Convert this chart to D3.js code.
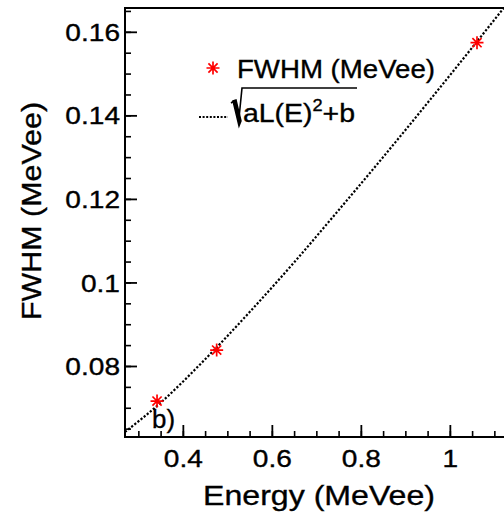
<!DOCTYPE html>
<html>
<head>
<meta charset="utf-8">
<script src="https://cdn.jsdelivr.net/npm/d3@7"></script>
<style>
  body { margin: 0; background: #fff; }
  text { font-family: "Liberation Sans", Arial, sans-serif; fill: #000; stroke: #000; stroke-width: 0.35px; }
</style>
</head>
<body>
<div id="chart"></div>
<script>
/* data */
var energy = [0.342, 0.476, 1.061];
var fwhm = [0.0716, 0.0838, 0.1574];

/* fit curve sqrt(aL(E)^2+b), sampled along the picture */
var fitE = [0.27, 0.35, 0.45, 0.55, 0.65, 0.75, 0.85, 0.95, 1.05, 1.13];
var fitF = [0.0642, 0.0712, 0.0816, 0.0929, 0.1048, 0.1173, 0.1300, 0.1430, 0.1562, 0.1669];

var yTicks = [0.08, 0.1, 0.12, 0.14, 0.16];
var yTickLabels = ["0.08", "0.1", "0.12", "0.14", "0.16"];
var xTicks = [0.4, 0.6, 0.8, 1.0];
var xTickLabels = ["0.4", "0.6", "0.8", "1"];

var xTitle = "Energy (MeVee)";
var yTitle = "FWHM (MeVee)";
var legendPoints = "FWHM (MeVee)";
var panelLabel = "b)";

var W = 504, H = 512;
var padL = 125, padT = 8, padB = 437, padR = 525;
var stretch = 1.17; // text in the original is widened

var svg = d3.select("#chart").append("svg")
	.attr("width", W).attr("height", H);

var x = d3.scaleLinear().domain([0.27, 0.27 + (padR - padL) / 445]).range([padL, padR]);
var y = d3.scaleLinear().domain([0.0630, 0.1657]).range([padB, padT]);

svg.append("defs").append("clipPath").attr("id", "clip")
	.append("rect").attr("x", padL).attr("y", padT)
	.attr("width", padR - padL).attr("height", padB - padT);

function widen(sel) {
	sel.each(function() {
		var n = this.getComputedTextLength();
		d3.select(this).attr("textLength", n * stretch).attr("lengthAdjust", "spacingAndGlyphs");
	});
}

/* minor ticks */
var yMinor = d3.range(0.065, 0.1651, 0.005);
var xMinor = d3.range(0.30, 1.16, 0.05);

svg.append("g").attr("transform", "translate(" + padL + ",0)")
	.call(d3.axisLeft(y).tickValues(yMinor).tickSize(-6).tickFormat(""))
	.call(function(g){ g.select(".domain").remove(); g.selectAll("line").attr("stroke-width", 1.6); });
svg.append("g").attr("transform", "translate(0," + padB + ")")
	.call(d3.axisBottom(x).tickValues(xMinor).tickSize(-6).tickFormat(""))
	.call(function(g){ g.select(".domain").remove(); g.selectAll("line").attr("stroke-width", 1.6); });

/* major ticks */
var gy = svg.append("g").attr("transform", "translate(" + padL + ",0)")
	.call(d3.axisLeft(y).tickValues(yTicks).tickSize(-12).tickPadding(5)
		.tickFormat(function(d, i){ return yTickLabels[i]; }));
gy.select(".domain").remove();
gy.selectAll("line").attr("stroke-width", 1.8);
gy.selectAll("text").attr("font-size", 24).attr("dy", "0.36em")
	.style("font-family", "Liberation Sans, Arial, sans-serif").call(widen);

var gx = svg.append("g").attr("transform", "translate(0," + padB + ")")
	.call(d3.axisBottom(x).tickValues(xTicks).tickSize(-12).tickPadding(0)
		.tickFormat(function(d, i){ return xTickLabels[i]; }));
gx.select(".domain").remove();
gx.selectAll("line").attr("stroke-width", 1.8);
gx.selectAll("text").attr("font-size", 24).attr("y", 30).attr("dy", 0)
	.style("font-family", "Liberation Sans, Arial, sans-serif").call(widen);

/* frame */
svg.append("path")
	.attr("d", "M" + padR + "," + padT + "H" + padL + "V" + padB + "H" + padR)
	.attr("fill", "none").attr("stroke", "#000").attr("stroke-width", 2);

/* fit curve */
var line = d3.line()
	.x(function(d){ return x(d[0]); })
	.y(function(d){ return y(d[1]); })
	.curve(d3.curveMonotoneX);

svg.append("path")
	.datum(d3.zip(fitE, fitF))
	.attr("clip-path", "url(#clip)")
	.attr("d", line)
	.attr("fill", "none").attr("stroke", "#000")
	.attr("stroke-width", 2.2).attr("stroke-dasharray", "2.2,1.8");

/* star markers */
function star(r) {
	var d = "";
	for (var k = 0; k < 4; k++) {
		var a = k * Math.PI / 4;
		var dx = r * Math.cos(a), dy = r * Math.sin(a);
		d += "M" + (-dx) + "," + (-dy) + "L" + dx + "," + dy;
	}
	return d;
}

svg.append("g").selectAll("path")
	.data(d3.zip(energy, fwhm))
	.enter().append("path")
	.attr("transform", function(d){ return "translate(" + x(d[0]) + "," + y(d[1]) + ")"; })
	.attr("d", star(6.5))
	.attr("stroke", "#ff0000").attr("stroke-width", 1.7).attr("fill", "none");

/* axis titles */
svg.append("text")
	.attr("x", 319).attr("y", 505)
	.attr("text-anchor", "middle").attr("font-size", 28)
	.text(xTitle)
	.attr("textLength", 232).attr("lengthAdjust", "spacingAndGlyphs");

svg.append("text")
	.attr("transform", "translate(41,211) rotate(-90)")
	.attr("text-anchor", "middle").attr("font-size", 28)
	.text(yTitle)
	.attr("textLength", 218).attr("lengthAdjust", "spacingAndGlyphs");

/* legend */
svg.append("path")
	.attr("transform", "translate(213,68)")
	.attr("d", star(6.5))
	.attr("stroke", "#ff0000").attr("stroke-width", 1.7).attr("fill", "none");

svg.append("text")
	.attr("x", 237).attr("y", 78).attr("font-size", 25)
	.text(legendPoints)
	.attr("textLength", 198).attr("lengthAdjust", "spacingAndGlyphs");

svg.append("line")
	.attr("x1", 199).attr("x2", 228).attr("y1", 117).attr("y2", 117)
	.attr("stroke", "#000").attr("stroke-width", 2).attr("stroke-dasharray", "2,1.6");

// radical sign
svg.append("path")
	.attr("d", "M231,103 L234,101 L239,118 L242,88 L357,88")
	.attr("fill", "none").attr("stroke", "#000").attr("stroke-width", 1.6);
svg.append("path")
	.attr("d", "M233,101 L236,100 L241,121 L239,126 Z")
	.attr("fill", "#000").attr("stroke", "#000").attr("stroke-width", 1.5);

var formula = svg.append("text")
	.attr("x", 243).attr("y", 122).attr("font-size", 25);
formula.append("tspan").text("aL(E)");
formula.append("tspan").attr("font-size", 16).attr("dy", -11).text("2");
formula.append("tspan").attr("dy", 11).text("+b");
formula.attr("textLength", 112).attr("lengthAdjust", "spacingAndGlyphs");

/* panel label */
svg.append("text")
	.attr("x", 152).attr("y", 428).attr("font-size", 26)
	.text(panelLabel)
	.attr("textLength", 23).attr("lengthAdjust", "spacingAndGlyphs");
</script>
</body>
</html>
